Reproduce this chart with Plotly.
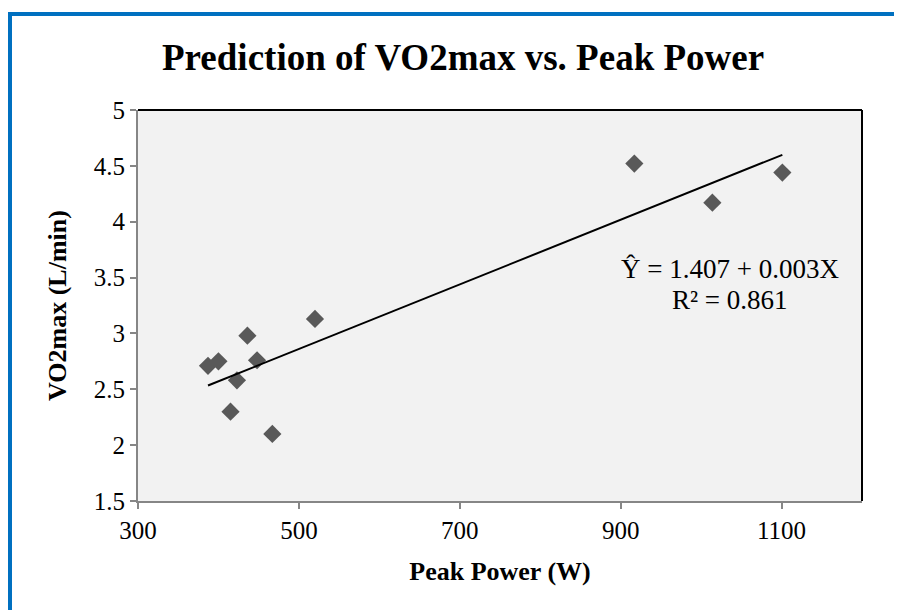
import numpy as np
import plotly.graph_objects as go

# Data
peak_power = [387, 400, 415, 423, 436, 448, 467, 520, 917, 1014, 1101]
vo2max = [2.71, 2.75, 2.30, 2.58, 2.98, 2.76, 2.10, 3.13, 4.52, 4.17, 4.44]

x_ticks = [300, 500, 700, 900, 1100]
y_ticks = [1.5, 2, 2.5, 3, 3.5, 4, 4.5, 5]

title_text = "Prediction of VO2max vs. Peak Power"
x_title = "Peak Power (W)"
y_title = "VO2max (L/min)"
eq_line1 = "Ŷ = 1.407 + 0.003X"
eq_line2 = "R² = 0.861"

# Linear trendline from the data
slope, intercept = np.polyfit(peak_power, vo2max, 1)
xf = np.array([min(peak_power), max(peak_power)])
yf = intercept + slope * xf

FONT = "Liberation Serif, Times New Roman, serif"

fig = go.Figure()
fig.add_trace(go.Scatter(
    x=peak_power, y=vo2max, mode="markers",
    marker=dict(symbol="diamond", size=14, color="#595959"),
    showlegend=False, cliponaxis=False,
))
fig.add_trace(go.Scatter(
    x=xf, y=yf, mode="lines",
    line=dict(color="black", width=2),
    showlegend=False,
))

fig.update_layout(
    width=894, height=602,
    margin=dict(l=130, r=40, t=102, b=109),
    paper_bgcolor="white",
    plot_bgcolor="#F2F2F2",
    font=dict(family=FONT, color="black", size=25),
    xaxis=dict(
        range=[300, 1200], tickvals=x_ticks, ticktext=[str(v) for v in x_ticks],
        showgrid=False, zeroline=False,
        showline=True, linecolor="#868686", linewidth=2,
        ticks="outside", ticklen=6, tickcolor="#868686", tickwidth=2,
        tickfont=dict(size=25),
        title=dict(text="<b>" + x_title + "</b>", font=dict(size=26), standoff=19),
    ),
    yaxis=dict(
        range=[1.5, 5], tickvals=y_ticks, ticktext=[f"{v:g}" for v in y_ticks],
        showgrid=False, zeroline=False,
        showline=True, linecolor="#868686", linewidth=2,
        ticks="outside", ticklen=6, tickcolor="#868686", tickwidth=2,
        tickfont=dict(size=25),
        title=dict(text="<b>" + y_title + "</b>", font=dict(size=26), standoff=20),
    ),
    shapes=[
        # black top and right border of plot area
        dict(type="line", xref="paper", yref="paper", x0=0, x1=1, y0=1, y1=1,
             line=dict(color="black", width=2)),
        dict(type="line", xref="paper", yref="paper", x0=1, x1=1, y0=0, y1=1,
             line=dict(color="black", width=2)),
        # blue outer border (left & top edges visible)
        dict(type="rect", xref="paper", yref="paper",
             x0=-0.1768, x1=2, y0=-2, y1=1.2455,
             line=dict(color="#0070C0", width=4), layer="above"),
    ],
    annotations=[
        dict(text="<b>" + title_text + "</b>", xref="paper", yref="paper",
             x=0.449, y=1.133, xanchor="center", yanchor="middle",
             showarrow=False, font=dict(size=37)),
        dict(text=eq_line1, x=1036, y=3.573, xref="x", yref="y",
             xanchor="center", yanchor="middle", showarrow=False,
             font=dict(size=27)),
        dict(text=eq_line2, x=1036, y=3.295, xref="x", yref="y",
             xanchor="center", yanchor="middle", showarrow=False,
             font=dict(size=27)),
    ],
)

fig.write_html("out.html")
